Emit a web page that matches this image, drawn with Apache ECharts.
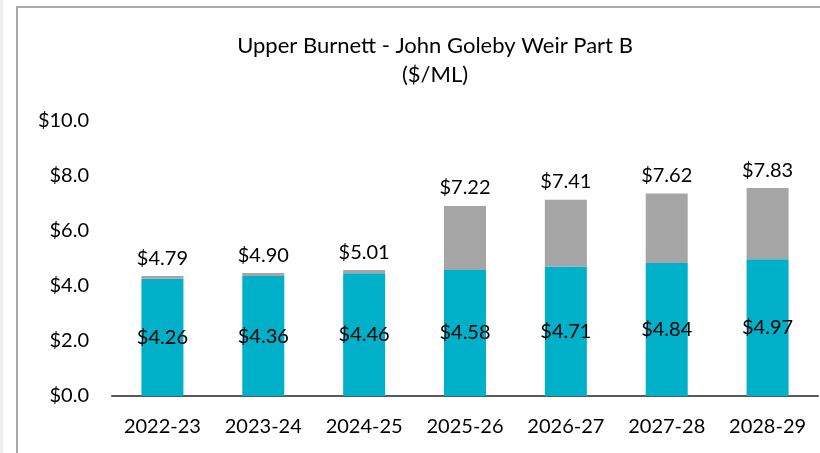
<!DOCTYPE html>
<html lang="en">
<head>
    <meta charset="UTF-8">
    <script src="https://cdn.jsdelivr.net/npm/echarts@6/dist/echarts.min.js"></script>
    <title>Upper Burnett - John Goleby Weir Part B</title>
    <style>
        html, body {
            margin: 0;
            padding: 0;
            width: 100%;
            height: 100%;
            overflow: hidden;
            background: #fff;
        }
        #chart {
            width: 820px;
            height: 453px;
        }
    </style>
</head>
<body>
<div id="chart"></div>
<script>
    // values
    var years = ['2022-23', '2023-24', '2024-25', '2025-26', '2026-27', '2027-28', '2028-29'];
    var partB = [4.26, 4.36, 4.46, 4.58, 4.71, 4.84, 4.97];      // teal
    var extra = [0.10, 0.11, 0.12, 2.33, 2.43, 2.52, 2.59];      // grey on top
    var totals = [4.79, 4.90, 5.01, 7.22, 7.41, 7.62, 7.83];     // labels above bars
    var yTicks = [0, 2, 4, 6, 8, 10];

    var font = 'Lato, "Open Sans", sans-serif';
    var myChart = echarts.init(document.getElementById('chart'));

    var option = {
        animation: false,
        backgroundColor: '#fff',
        textStyle: {fontFamily: font},
        title: {
            text: 'Upper Burnett - John Goleby Weir Part B\n($/ML)',
            left: 430,
            top: 26,
            textAlign: 'center',
            textStyle: {
                fontFamily: font,
                fontSize: 22,
                fontWeight: 'normal',
                color: '#000',
                lineHeight: 29
            }
        },
        graphic: [
            {type: 'rect', shape: {x: 0, y: 0, width: 3, height: 453}, style: {fill: '#efefef'}, silent: true},
            {type: 'rect', shape: {x: 17, y: 7, width: 900, height: 600}, style: {fill: 'none', stroke: '#a9a9a9', lineWidth: 2}, silent: true}
        ],
        grid: {left: 112, right: 2, top: 121, bottom: 57},
        xAxis: {
            type: 'category',
            data: years,
            axisTick: {show: false},
            axisLine: {lineStyle: {color: '#595959', width: 2}},
            axisLabel: {color: '#000', fontSize: 20, fontFamily: font, margin: 21}
        },
        yAxis: {
            type: 'value',
            min: yTicks[0],
            max: yTicks[yTicks.length - 1],
            interval: 2,
            splitLine: {show: false},
            axisLine: {show: false},
            axisTick: {show: false},
            axisLabel: {
                color: '#000',
                fontSize: 20,
                fontFamily: font,
                margin: 23,
                formatter: function (v) { return '$' + v.toFixed(1); }
            }
        },
        series: [
            {
                type: 'bar',
                stack: 'price',
                data: partB,
                barWidth: 42,
                itemStyle: {color: '#00AFC8'},
                label: {
                    show: true,
                    position: 'inside',
                    color: '#000',
                    fontSize: 20,
                    fontFamily: font,
                    formatter: function (p) { return '$' + p.value.toFixed(2); }
                }
            },
            {
                type: 'bar',
                stack: 'price',
                data: extra,
                barWidth: 42,
                itemStyle: {color: '#A5A5A5'},
                label: {
                    show: true,
                    position: 'top',
                    distance: 8,
                    color: '#000',
                    fontSize: 20,
                    fontFamily: font,
                    formatter: function (p) { return '$' + totals[p.dataIndex].toFixed(2); }
                }
            }
        ]
    };

    myChart.setOption(option);
</script>
</body>
</html>
